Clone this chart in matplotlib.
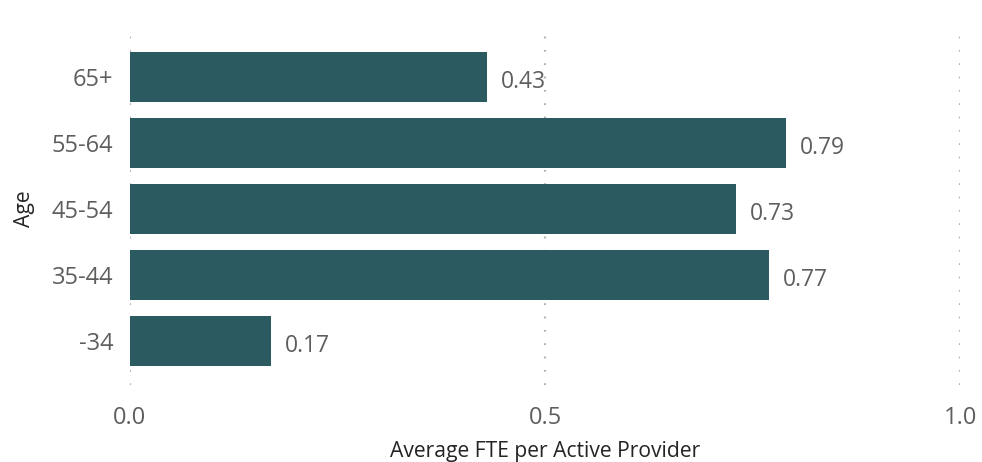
import matplotlib
matplotlib.use("Agg")
import matplotlib.pyplot as plt

# Average FTE per active provider by age band
ages = ["-34", "35-44", "45-54", "55-64", "65+"]
avg_fte = [0.17, 0.77, 0.73, 0.79, 0.43]
x_ticks = [0.0, 0.5, 1.0]
x_tick_labels = ["0.0", "0.5", "1.0"]

plt.rcParams["font.family"] = ["Open Sans", "DejaVu Sans"]

bar_color = "#2B5B60"
tick_color = "#605E5C"
title_color = "#252423"

fig = plt.figure(figsize=(9.82, 4.62), dpi=100)
ax = fig.add_axes([130 / 982, 1 - 385 / 462, 830 / 982, 352 / 462])

ypos = list(range(len(ages)))
ax.barh(ypos, avg_fte, height=0.757, color=bar_color, zorder=3)

for y, v in zip(ypos, avg_fte):
    ax.text(v + 0.017, y - 0.07, f"{v:.2f}", va="center", ha="left",
            fontsize=16.5, color=tick_color, zorder=4)

ax.set_xlim(0, 1.0)
ax.set_ylim(-0.667, len(ages) - 1 + 0.667)
ax.set_yticks(ypos)
ax.set_yticklabels(ages)
ax.set_xticks(x_ticks)
ax.set_xticklabels(x_tick_labels)

ax.tick_params(axis="both", length=0, labelsize=17, labelcolor=tick_color)
ax.tick_params(axis="y", pad=12)
ax.tick_params(axis="x", pad=15)

for s in ax.spines.values():
    s.set_visible(False)

ax.grid(axis="x", color="#B3B0AD", linestyle=(0, (0.8, 5.2)), linewidth=1.6, zorder=0)
ax.grid(axis="y", visible=False)

ax.set_xlabel("Average FTE per Active Provider", fontsize=15.2, color=title_color, labelpad=8)
ax.set_ylabel("Age", fontsize=15.2, color=title_color, labelpad=12)

fig.savefig("out.png", dpi=100)
